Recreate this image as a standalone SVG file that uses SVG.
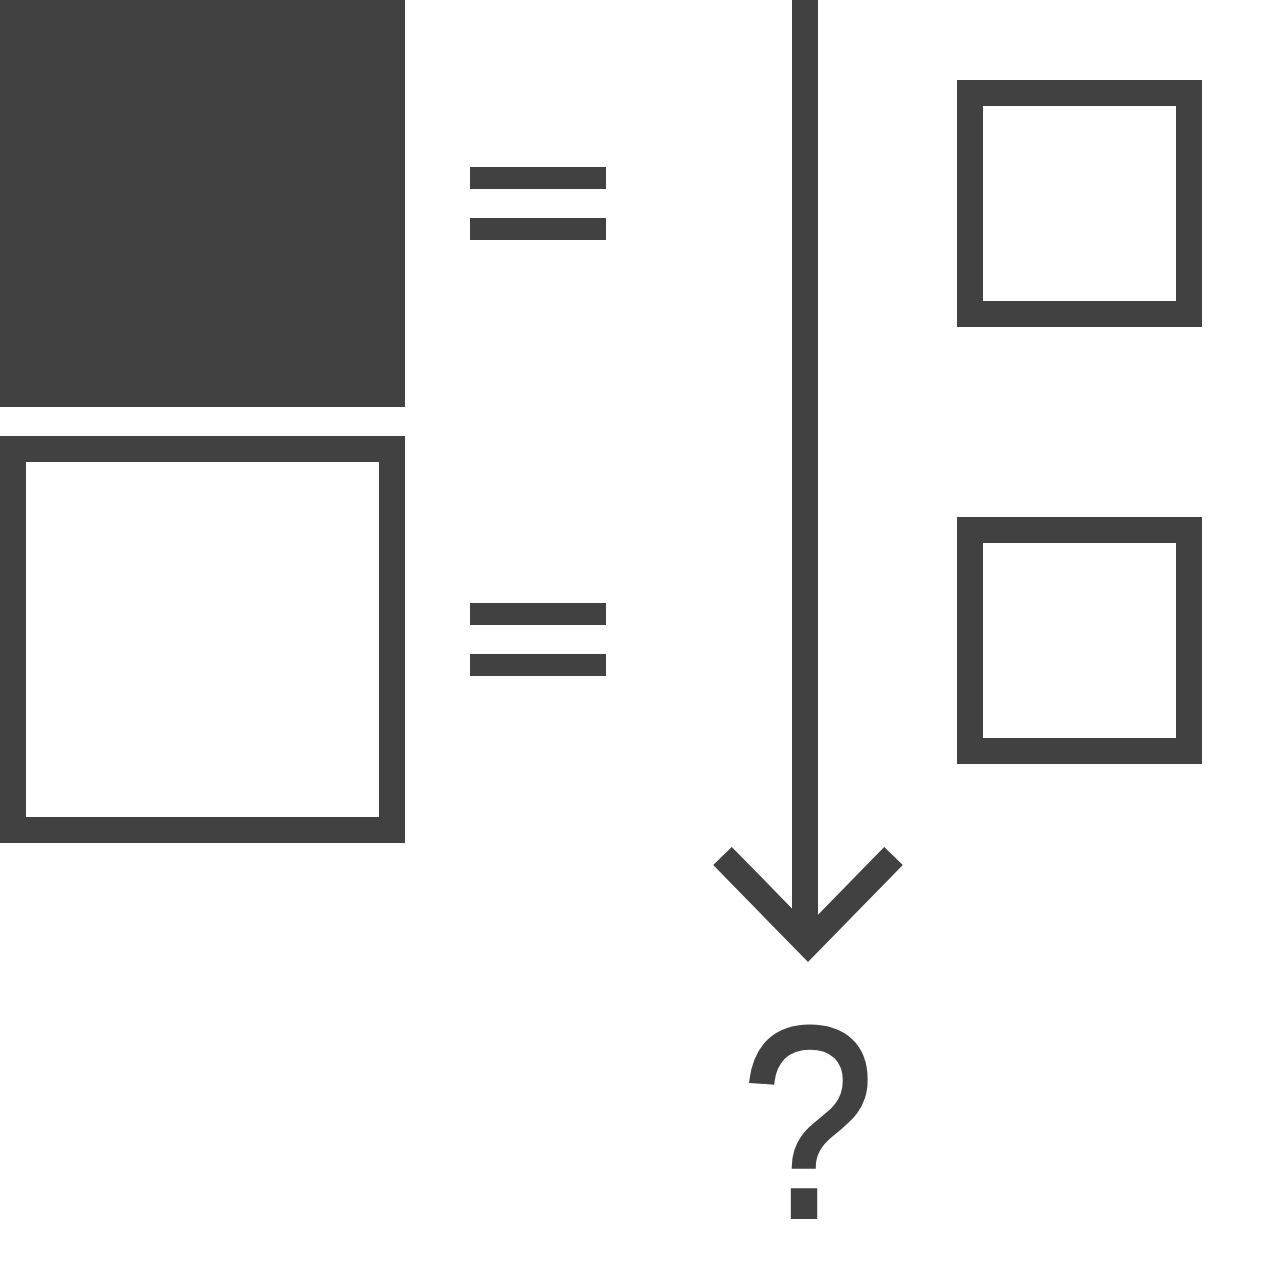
<svg xmlns="http://www.w3.org/2000/svg" width="1280" height="1280" viewBox="0 0 1280 1280">
<style>
.f{fill:#414141}
.o{fill:none;stroke:#414141;stroke-width:26}
.t{font-family:"Liberation Sans",Arial,sans-serif;font-size:273px;fill:#414141;stroke:#414141;stroke-width:4;stroke-linejoin:miter}
</style>
<rect width="1280" height="1280" fill="#fff"/>
<g id="filled-square"><rect class="f" x="0" y="0" width="405" height="407"/></g>
<g id="empty-square-left"><rect class="o" x="13" y="449" width="379" height="381"/></g>
<g id="equals-1"><rect class="f" x="470" y="167" width="136" height="22"/><rect class="f" x="470" y="218" width="136" height="22"/></g>
<g id="equals-2"><rect class="f" x="470" y="603" width="136" height="22"/><rect class="f" x="470" y="654" width="136" height="22"/></g>
<g id="square-right-1"><rect class="o" x="970" y="93" width="219" height="221"/></g>
<g id="square-right-2"><rect class="o" x="970" y="530" width="219" height="221"/></g>
<g id="connectors">
<line class="o" x1="805" y1="0" x2="805" y2="925"/>
<polyline class="o" points="722.5,856 808,943.5 893.5,856" stroke-linejoin="miter"/>
</g>
<g id="question"><text class="t" transform="translate(808,1217) scale(0.88,1)" x="0" y="0" text-anchor="middle">?</text></g>
</svg>
